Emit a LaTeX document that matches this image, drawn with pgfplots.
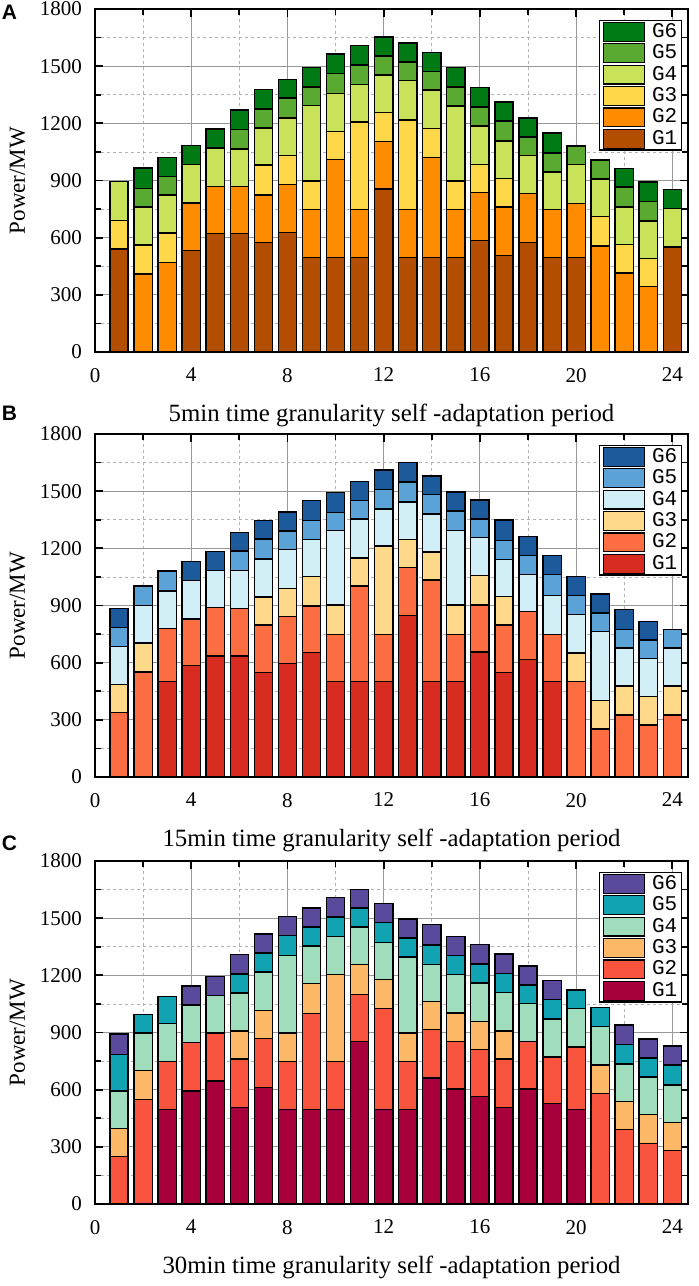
\documentclass[border=0pt]{standalone}
\usepackage{pgfplots}
\usepackage{pgfplotstable}
\pgfplotsset{compat=1.18}
\usepackage{fontspec}
\setmainfont{Liberation Serif}
\newfontfamily\legfont{Liberation Mono}
\newfontfamily\panelfont{Liberation Sans}

\definecolor{aA1}{HTML}{B34E00}
\definecolor{aA2}{HTML}{FF8C00}
\definecolor{aA3}{HTML}{FFD84A}
\definecolor{aA4}{HTML}{C8E35A}
\definecolor{aA5}{HTML}{5AAA32}
\definecolor{aA6}{HTML}{007A15}
\definecolor{aB1}{HTML}{D92C20}
\definecolor{aB2}{HTML}{FC6E42}
\definecolor{aB3}{HTML}{FED98A}
\definecolor{aB4}{HTML}{D2EEF6}
\definecolor{aB5}{HTML}{5BA2D6}
\definecolor{aB6}{HTML}{1C5A9C}
\definecolor{aC1}{HTML}{A8003D}
\definecolor{aC2}{HTML}{F9553E}
\definecolor{aC3}{HTML}{FDB868}
\definecolor{aC4}{HTML}{A0DDBC}
\definecolor{aC5}{HTML}{12A3B2}
\definecolor{aC6}{HTML}{5B4A9C}

\pgfplotstableread{
x g1 g2 g3 g4 g5 g6
1 540 0 150 205 0 0
2 0 410 152 198 98 108
3 0 471 154 199 98 100
4 534 248 0 202 0 101
5 621 249 0 201 0 100
6 621 249 0 196 101 103
7 576 248 158 194 100 103
8 626 254 151 196 105 99
9 497 252 149 395 98 102
10 497 513 148 198 105 102
11 497 252 459 197 102 103
12 856 248 153 197 100 100
13 497 252 469 206 98 100
14 497 525 150 202 99 100
15 497 252 149 393 100 102
16 584 252 149 201 100 102
17 507 254 149 198 105 99
18 576 255 0 200 98 99
19 497 252 0 196 100 105
20 497 283 0 204 98 0
21 0 557 154 196 101 0
22 0 415 149 196 105 99
23 0 345 145 198 103 102
24 551 0 0 203 0 100
}\tabA

\pgfplotstableread{
x g1 g2 g3 g4 g5 g6
1 0 338 146 202 98 101
2 0 552 152 197 101 0
3 502 277 0 197 106 0
4 584 245 0 202 0 100
5 636 254 0 195 0 100
6 636 249 0 200 101 98
7 547 251 146 200 105 98
8 596 245 147 205 98 99
9 652 245 155 195 100 104
10 502 247 153 391 95 105
11 502 500 148 204 97 99
12 502 247 463 194 104 101
13 847 254 146 197 105 101
14 502 531 148 200 100 99
15 502 247 153 391 104 99
16 657 245 157 199 96 99
17 547 251 150 195 97 108
18 617 251 0 196 98 99
19 502 247 0 204 110 99
20 0 502 148 204 99 99
21 0 251 151 361 98 99
22 0 326 151 199 97 105
23 0 272 151 199 97 98
24 0 326 151 199 97 0
}\tabB

\pgfplotstableread{
x g1 g2 g3 g4 g5 g6
1 0 250 145 199 192 107
2 0 547 154 197 98 0
3 496 253 0 198 143 0
4 594 255 0 196 0 99
5 645 253 0 196 0 101
6 507 253 148 200 99 103
7 613 255 147 203 99 100
8 496 253 149 407 103 101
9 496 505 156 197 100 99
10 496 253 456 198 103 101
11 854 247 155 198 99 98
12 496 531 150 196 105 100
13 496 253 149 398 100 99
14 662 253 149 194 101 107
15 603 250 150 202 98 102
16 564 247 146 203 100 101
17 508 252 147 204 98 102
18 603 250 0 199 98 99
19 529 243 0 198 103 101
20 496 327 0 202 98 0
21 0 580 150 203 99 0
22 0 390 148 197 102 103
23 0 316 154 197 100 98
24 0 281 147 197 104 101
}\tabC

\pgfplotsset{
  layers/mylayers/.define layer set={axis background,axis grid,main,axis ticks,axis lines,axis tick labels,axis descriptions,axis foreground}{},
  panel/.style={
    set layers=mylayers,
    scale only axis, width=296.5pt, height=171.5pt,
    anchor=south west,
    ybar stacked, bar width=0.76,
    xmin=0, xmax=24.65, ymin=0, ymax=1800,
    xtick={0,4,...,24}, ytick={0,300,...,1800},
    minor x tick num=1, minor y tick num=1,
    grid=both,
    major grid style={solid, draw=gray!80, line width=0.55pt},
    minor grid style={dash pattern=on 1.5pt off 1.5pt, draw=gray!60, line width=0.4pt},
    tick align=inside, major tick length=4pt, minor tick length=3pt,
    every tick/.style={black, line width=0.9pt},
    axis line style={line width=1pt},
    /pgf/number format/assume math mode=true,
    /pgf/number format/1000 sep={},
    ticklabel style={font=\fontsize{10.5}{12}\selectfont},
    xticklabel style={yshift=-4.5pt},
    yticklabel style={xshift=-3pt},
    ylabel={Power/MW},
    ylabel style={font=\fontsize{11.5}{13}\selectfont, at={(axis description cs:0,0.5)}, anchor=center, xshift=0pt, yshift=38.75pt},
    xlabel style={font=\fontsize{12.4}{14}\selectfont, at={(axis description cs:0.5,0)}, anchor=center, yshift=-31.5pt},
    legend style={at={(rel axis cs:0.99,0.968)}, anchor=north east, fill=white, draw=black, line width=0.6pt,
      font=\legfont\fontsize{10.5}{11}\selectfont, inner xsep=1.5pt, inner ysep=0.6pt, row sep=0.7pt,
      nodes={inner sep=0.6pt},
      /tikz/every odd column/.append style={column sep=3pt}},
    legend cell align=left,
    reverse legend,
    legend image code/.code={\draw[##1, line width=0.6pt] (0pt,-4.7pt) rectangle (20.5pt,4.7pt);},
  },
}

\begin{document}
\begin{tikzpicture}

\begin{axis}[panel, at={(47.5pt,-176pt)}, xlabel={5min time granularity self -adaptation period}]
\addplot[fill=aA1, draw=black, line width=0.7pt] table[x=x,y=g1]{\tabA};
\addplot[fill=aA2, draw=black, line width=0.7pt] table[x=x,y=g2]{\tabA};
\addplot[fill=aA3, draw=black, line width=0.7pt] table[x=x,y=g3]{\tabA};
\addplot[fill=aA4, draw=black, line width=0.7pt] table[x=x,y=g4]{\tabA};
\addplot[fill=aA5, draw=black, line width=0.7pt] table[x=x,y=g5]{\tabA};
\addplot[fill=aA6, draw=black, line width=0.7pt] table[x=x,y=g6]{\tabA};
\legend{G1,G2,G3,G4,G5,G6}
\end{axis}

\begin{axis}[panel, at={(47.5pt,-388.5pt)}, xlabel={15min time granularity self -adaptation period}]
\addplot[fill=aB1, draw=black, line width=0.7pt] table[x=x,y=g1]{\tabB};
\addplot[fill=aB2, draw=black, line width=0.7pt] table[x=x,y=g2]{\tabB};
\addplot[fill=aB3, draw=black, line width=0.7pt] table[x=x,y=g3]{\tabB};
\addplot[fill=aB4, draw=black, line width=0.7pt] table[x=x,y=g4]{\tabB};
\addplot[fill=aB5, draw=black, line width=0.7pt] table[x=x,y=g5]{\tabB};
\addplot[fill=aB6, draw=black, line width=0.7pt] table[x=x,y=g6]{\tabB};
\legend{G1,G2,G3,G4,G5,G6}
\end{axis}

\begin{axis}[panel, at={(47.5pt,-602pt)}, xlabel={30min time granularity self -adaptation period}]
\addplot[fill=aC1, draw=black, line width=0.7pt] table[x=x,y=g1]{\tabC};
\addplot[fill=aC2, draw=black, line width=0.7pt] table[x=x,y=g2]{\tabC};
\addplot[fill=aC3, draw=black, line width=0.7pt] table[x=x,y=g3]{\tabC};
\addplot[fill=aC4, draw=black, line width=0.7pt] table[x=x,y=g4]{\tabC};
\addplot[fill=aC5, draw=black, line width=0.7pt] table[x=x,y=g5]{\tabC};
\addplot[fill=aC6, draw=black, line width=0.7pt] table[x=x,y=g6]{\tabC};
\legend{G1,G2,G3,G4,G5,G6}
\end{axis}

\node[font=\panelfont\bfseries\fontsize{10.5}{12}\selectfont] at (4.75pt,-6pt) {A};
\node[font=\panelfont\bfseries\fontsize{10.5}{12}\selectfont] at (4.75pt,-206.75pt) {B};
\node[font=\panelfont\bfseries\fontsize{10.5}{12}\selectfont] at (4.75pt,-421.5pt) {C};

\pgfresetboundingbox
\path[use as bounding box] (0,0) rectangle (349.5pt,-643pt);
\end{tikzpicture}
\end{document}
